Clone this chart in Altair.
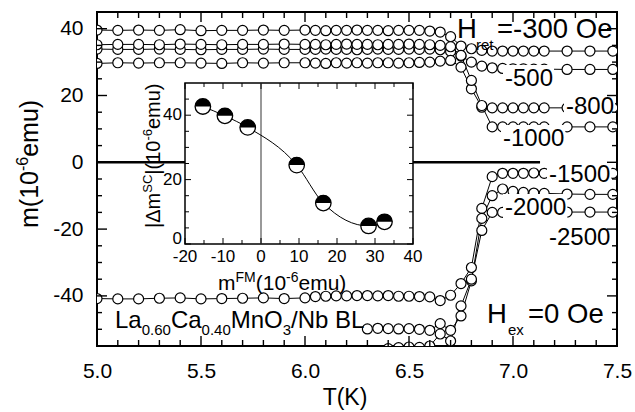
import altair as alt
import pandas as pd

FONT = "Liberation Sans"

# ---------------- data ----------------
T = [5.0, 5.1, 5.2, 5.3, 5.4, 5.5, 5.6, 5.7, 5.8, 5.9, 6.0,
     6.05, 6.1, 6.15, 6.2, 6.25, 6.3, 6.35, 6.4, 6.45, 6.5, 6.55, 6.6,
     6.65, 6.7, 6.75, 6.8, 6.85, 6.9, 6.95, 7.0, 7.05, 7.1, 7.15,
     7.26, 7.37, 7.48]
N = None
m_300 = [39.6, 39.5, 39.6, 39.5, 39.7, 39.4, 39.5, 39.5, 39.6, 39.5, 39.6,
         39.5, 39.4, 39.5, 39.5, 39.6, 39.5, 39.5, 39.4, 39.5, 39.5, 39.5, 39.3,
         39.0, 37.6, 34.8, 34.0, 33.5, 33.3, 33.3, 33.3, 33.3, 33.3, 33.3,
         33.3, 33.3, 33.3]
m_500 = [33.9, 33.8, 33.8, 33.9, 33.8, 33.7, 33.8, 33.8, 33.9, 33.8, 33.8,
         33.8, 33.9, 33.8, 33.8, 33.7, 33.8, 33.9, 33.8, 33.8, 33.9, 33.8, 33.9,
         33.7, 33.2, 31.8, 30.0, 28.8, 28.3, 28.1, 28.0, 28.0, 27.9, 27.9,
         27.8, 27.8, 27.8]
m_800 = [29.6, 29.8, 29.7, 29.8, 29.8, 29.7, 29.6, 29.8, 29.7, 29.8, 29.8,
         29.7, 29.6, 29.8, 29.7, 29.8, 29.7, 29.8, 29.8, 29.7, 29.8, 29.9, 30.0,
         30.3, 30.5, 28.5, 22.0, 16.5, 16.3, 16.3, 16.3, 16.3, 16.3, 16.3,
         16.3, 16.3, 16.3]
m_1000 = [35.2, 35.3, 35.3, 35.2, 35.4, 35.3, 35.2, 35.3, 35.3, 35.4, 35.3,
          35.3, 35.2, 35.3, 35.4, 35.3, 35.3, 35.2, 35.3, 35.3, 35.4, 35.3, 35.2,
          35.0, 34.6, 32.0, 24.5, 17.0, 10.6, 10.6, 10.6, 10.6, 10.6, 10.6,
          10.6, 10.6, 10.6]
m_1500 = [-40.8, -40.9, -40.9, -40.7, -40.6, -40.9, -40.8, -40.7, -40.6, -40.8, -40.6,
          -40.2, -40.1, -40.0, -40.0, -39.9, -39.9, -40.0, -39.9, -40.1, -40.1, -40.2, -40.3,
          -41.4, -39.8, -36.3, -31.5, -13.8, -4.3, -3.3, -3.3, -3.3, -3.2, -3.3,
          -3.3, -3.3, -3.3]
m_2000 = [N, N, N, N, N, N, N, N, N, N, N,
          N, N, N, N, N, -49.9, -49.7, -49.8, -49.9, -49.8, -50.0, -50.3,
          -48.3, -50.3, -46.0, -35.5, -16.8, -10.0, -8.0, -8.7, -9.0, -9.2, -9.3,
          -9.5, -9.6, -9.6]
m_2500 = [N, N, N, N, N, N, N, N, N, N, N,
          N, N, N, N, N, N, N, -55.8, -55.5, -55.3, -55.4, -55.0,
          -51.4, -53.5, -43.0, -35.0, -20.4, -15.0, -15.0, -15.0, -15.0, -14.9, -14.9,
          -14.9, -14.9, -14.9]
series_names = ["-300", "-500", "-800", "-1000", "-1500", "-2000", "-2500"]
series_vals = [m_300, m_500, m_800, m_1000, m_1500, m_2000, m_2500]

inset_mfm = [-15.3, -9.5, -3.5, 9.4, 16.4, 28.3, 32.5]
inset_dmsc = [42.7, 39.8, 36.2, 24.5, 12.7, 5.6, 6.9]

x_labels = [5.0, 5.5, 6.0, 6.5, 7.0, 7.5]
x_minor = [5.1, 5.2, 5.3, 5.4, 5.6, 5.7, 5.8, 5.9, 6.1, 6.2, 6.3, 6.4,
           6.6, 6.7, 6.8, 6.9, 7.1, 7.2, 7.3, 7.4]
y_labels = [-40, -20, 0, 20, 40]
y_minor = [-50, -45, -35, -30, -25, -15, -10, -5, 5, 10, 15, 25, 30, 35]

ix_labels = [-20, -10, 0, 10, 20, 30, 40]
ix_label_text = ["-20", "-10", "0", "10", "20", "30", "40"]
ix_minor = [-15, -5, 5, 15, 25, 35]
iy_labels = [20, 40]
iy_label_text = ["20", "40"]
iy_zero_label = "0"
iy_ticks = [0, 20, 40]
iy_minor = [5, 10, 15, 25, 30, 35, 45]

# ---------------- layout ----------------
W, H = 520, 334
IX0, IX1, IY0, IY1 = 88, 316, 232, 71   # inset frame in plot pixels

rows = []
for name, vals in zip(series_names, series_vals):
    for t, v in zip(T, vals):
        if v is not None:
            rows.append({"T": t, "m": v, "H": name})
curves = pd.DataFrame(rows)
dummy = pd.DataFrame({"d": [0]})

CW = {'0': 556, '1': 556, '2': 556, '3': 556, '4': 556, '5': 556, '6': 556, '7': 556,
      '8': 556, '9': 556, '.': 278, '-': 333, '=': 584, ' ': 278, '(': 333, ')': 333,
      '/': 278, '|': 260, 'Δ': 668, 'H': 722, 'O': 778, 'e': 556, 'r': 333, 't': 278,
      'x': 500, 'L': 556, 'a': 556, 'C': 722, 'M': 833, 'n': 556, 'N': 722, 'b': 556,
      'B': 667, 'm': 833, 'u': 556, 'F': 611, 'S': 667, 'T': 611, 'K': 667}


def tw(s, size):
    return sum(CW.get(c, 556) for c in s) / 1000.0 * size


def txt(s, x, y, size, angle=None, align="left", baseline="alphabetic"):
    kw = dict(text=s, fontSize=size, font=FONT, color="black", align=align, baseline=baseline)
    if angle is not None:
        kw["angle"] = angle
    return alt.Chart(dummy).mark_text(**kw).encode(x=alt.value(x), y=alt.value(y))


def runs(parts, x0, y0, rotated=False):
    out = []
    pos = 0.0
    for s, size, shift in parts:
        if rotated:
            out.append(txt(s, x0 + shift, y0 - pos, size, angle=270))
        else:
            out.append(txt(s, x0 + pos, y0 + shift, size))
        pos += tw(s, size)
    return out


def bg(x, x2, y, y2):
    return alt.Chart(dummy).mark_rect(color="white").encode(
        x=alt.value(x), x2=alt.value(x2), y=alt.value(y), y2=alt.value(y2))


# ---------------- main panel ----------------
xs = alt.Scale(domain=[5.0, 7.5], nice=False, zero=False)
ys = alt.Scale(domain=[-55, 45], nice=False, zero=False)
xax = alt.Axis(values=x_labels, labelExpr="format(datum.value, '.1f')", title=None,
               ticks=False, domain=False, grid=False, labelFontSize=21, labelFont=FONT,
               labelColor="black", labelPadding=31, labelBaseline="alphabetic",
               labelFlush=False, labelOverlap=False)
yax = alt.Axis(values=y_labels, labelExpr="'' + datum.value", title=None,
               ticks=False, domain=False, grid=False, labelFontSize=21, labelFont=FONT,
               labelColor="black", labelPadding=14, labelFlush=False, labelOverlap=False)


def vticks(vals, scale, axis, y0, y1, sw=1.4):
    return alt.Chart(pd.DataFrame({"v": vals})).mark_rule(color="black", strokeWidth=sw).encode(
        x=alt.X("v:Q", scale=scale, axis=axis), y=alt.value(y0), y2=alt.value(y1))


def hticks(vals, scale, axis, x0, x1, sw=1.4):
    return alt.Chart(pd.DataFrame({"v": vals})).mark_rule(color="black", strokeWidth=sw).encode(
        y=alt.Y("v:Q", scale=scale, axis=axis), x=alt.value(x0), x2=alt.value(x1))


zero_rule = alt.Chart(dummy).mark_rule(color="black", strokeWidth=2.5).encode(
    x=alt.X(datum=5.0, type="quantitative", scale=xs, axis=xax),
    x2=alt.X2(datum=7.13),
    y=alt.Y(datum=0, type="quantitative", scale=ys, axis=yax))

base = alt.Chart(curves).encode(
    x=alt.X("T:Q", scale=xs, axis=xax),
    y=alt.Y("m:Q", scale=ys, axis=yax),
    detail="H:N", order="T:Q")
lines = base.mark_line(color="black", strokeWidth=1, clip=True)
points = base.mark_point(shape="circle", filled=True, fill="white", stroke="black",
                         strokeWidth=1.2, size=100, opacity=1, clip=True)

main_layers = [zero_rule, lines, points]

# white label backgrounds + labels on the right
right_labels = [("-500", 408, 74), ("-800", 469, 102), ("-1000", 406, 134),
                ("-1500", 452, 170), ("-2000", 408, 203), ("-2500", 452, 233)]
for s, x, y in right_labels:
    w = tw(s, 24)
    main_layers.append(bg(x - 2, x + w + 1, y - 21, y + 4))
for s, x, y in right_labels:
    main_layers.append(txt(s, x, y, 24))

main_layers += [
    txt("H", 360, 26, 27.5), txt("ret", 379, 38, 15), txt("=-300 Oe", 400, 26, 27.5),
    txt("H", 390, 311, 27.5), txt("ex", 411, 323, 15), txt("=0 Oe", 431, 311, 27.5),
]
main_layers += runs([("La", 24, 0), ("0.60", 15, 7), ("Ca", 24, 0), ("0.40", 15, 7),
                     ("MnO", 24, 0), ("3", 15, 7), ("/Nb BL", 24, 0)], 18, 316)
# axis titles
main_layers.append(txt("T(K)", 248, 393, 23, align="center"))
main_layers += runs([("m(10", 25, 0), ("-6", 16, -10), ("emu)", 25, 0)], -59, 216, rotated=True)

# ticks (inward)
main_layers += [
    vticks(x_labels, xs, xax, H, H - 10), vticks(x_minor, xs, xax, H, H - 6),
    vticks(x_labels, xs, xax, 0, 10), vticks(x_minor, xs, xax, 0, 6),
    hticks(y_labels, ys, yax, 0, 10), hticks(y_minor, ys, yax, 0, 5),
    hticks(y_labels, ys, yax, W, W - 10), hticks(y_minor, ys, yax, W, W - 5),
]
main = alt.layer(*main_layers)

# ---------------- inset ----------------
ixs = alt.Scale(domain=[-20, 40], range=[IX0, IX1], nice=False, zero=False)
iys = alt.Scale(domain=[0, 50], range=[IY0, IY1], nice=False, zero=False)

ibg = alt.Chart(dummy).mark_rect(fill="white", stroke="black", strokeWidth=1.5).encode(
    x=alt.X(datum=-20, type="quantitative", scale=ixs, axis=None), x2=alt.X2(datum=40),
    y=alt.Y(datum=0, type="quantitative", scale=iys, axis=None), y2=alt.Y2(datum=50))
izero = alt.Chart(dummy).mark_rule(color="#555555", strokeWidth=1.2).encode(
    x=alt.X(datum=0, type="quantitative", scale=ixs, axis=None),
    y=alt.Y(datum=0, type="quantitative", scale=iys, axis=None), y2=alt.Y2(datum=50))

inset_df = pd.DataFrame({"mfm": inset_mfm, "dm": inset_dmsc})
ib = alt.Chart(inset_df).encode(x=alt.X("mfm:Q", scale=ixs, axis=None),
                                y=alt.Y("dm:Q", scale=iys, axis=None))
iline = ib.mark_line(color="black", strokeWidth=1, interpolate="monotone")
icirc = ib.mark_point(shape="circle", filled=True, fill="white", stroke="black",
                      strokeWidth=1.3, size=240, opacity=1)
ihalf = ib.mark_point(shape="M -1 0 A 1 1 0 0 1 1 0 Z", filled=True, fill="black",
                      strokeWidth=0, size=240, opacity=1)

ixl = alt.Chart(pd.DataFrame({"v": ix_labels, "t": ix_label_text})).mark_text(
    font=FONT, fontSize=17, color="black", baseline="alphabetic", dy=18).encode(
    x=alt.X("v:Q", scale=ixs, axis=None),
    y=alt.Y(datum=0, type="quantitative", scale=iys, axis=None), text="t:N")
iyl = alt.Chart(pd.DataFrame({"v": iy_labels, "t": iy_label_text})).mark_text(
    font=FONT, fontSize=17, color="black", align="right", baseline="middle", dx=-3).encode(
    y=alt.Y("v:Q", scale=iys, axis=None),
    x=alt.X(datum=-20, type="quantitative", scale=ixs, axis=None), text="t:N")
iyl0 = alt.Chart(dummy).mark_text(
    text=iy_zero_label, font=FONT, fontSize=17, color="black", align="right",
    baseline="middle", dx=-3, dy=-5).encode(
    y=alt.Y(datum=0, type="quantitative", scale=iys, axis=None),
    x=alt.X(datum=-20, type="quantitative", scale=ixs, axis=None))

inset_layers = [ibg, izero,
                vticks(ix_labels, ixs, None, IY0, IY0 - 6, 1), vticks(ix_minor, ixs, None, IY0, IY0 - 4, 1),
                vticks(ix_labels, ixs, None, IY1, IY1 + 6, 1), vticks(ix_minor, ixs, None, IY1, IY1 + 4, 1),
                hticks(iy_ticks, iys, None, IX0, IX0 + 6, 1), hticks(iy_minor, iys, None, IX0, IX0 + 4, 1),
                hticks(iy_ticks, iys, None, IX1, IX1 - 6, 1), hticks(iy_minor, iys, None, IX1, IX1 - 4, 1),
                iline, icirc, ihalf, ixl, iyl, iyl0]
inset_layers += runs([("m", 21, 0), ("FM", 14, -8), ("(10", 21, 0), ("-6", 14, -8), ("emu)", 21, 0)],
                     121, 278)
inset_layers += runs([("|Δm", 20, 0), ("SC", 13, -8), ("|(10", 20, 0), ("-6", 13, -8), ("emu)", 20, 0)],
                     63, 216, rotated=True)
inset = alt.layer(*inset_layers)

chart = alt.layer(main, inset).resolve_scale(x="independent", y="independent").properties(
    width=W, height=H, autosize="none", background="white",
    padding={"left": 97, "top": 12, "right": 18, "bottom": 66}
).configure_view(stroke="black", strokeWidth=2)

chart.save("out.html", embed_options={"renderer": "svg", "actions": False})
